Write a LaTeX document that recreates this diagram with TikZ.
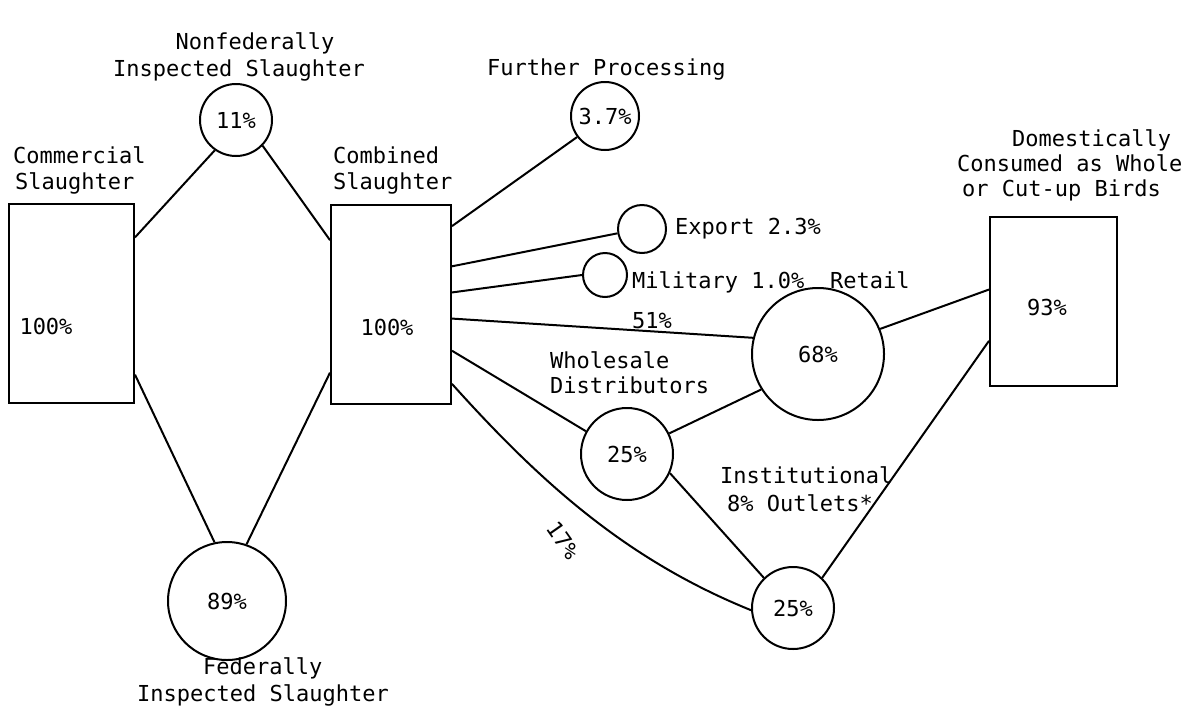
\documentclass[tikz,border=0pt]{standalone}
\usepackage{fontspec}
\setmonofont{DejaVu Sans Mono}
\usetikzlibrary{calc}
\begin{document}
\begin{tikzpicture}[x=1pt,y=-1pt,
  lbl/.style={font=\ttfamily\fontsize{22}{26}\selectfont, inner sep=0pt},
  pct/.style={circle, draw, line width=2pt, inner sep=0pt,
              font=\ttfamily\fontsize{22}{26}\selectfont},
  box/.style={draw, line width=2pt, inner sep=0pt},
  link/.style={line width=2pt}]
\useasboundingbox (0,0) rectangle (1182,707);

% boxes
\node[box, minimum width=125, minimum height=199] (comm) at (71.5,303.5) {};
\node[box, minimum width=120, minimum height=199] (comb) at (391,304.5) {};
\node[box, minimum width=127, minimum height=169] (dom)  at (1053.5,301.5) {};
\node[lbl] (commp) at (46,326) {100\%};
\node[lbl] (combp) at (387,327) {100\%};
\node[lbl] (domp)  at (1047,307) {93\%};

% circles
\node[pct, minimum size=72]  (c11) at (236,120) {11\%};
\node[pct, minimum size=118] (c89) at (227,601) {89\%};
\node[pct, minimum size=68]  (c37) at (605,116) {3.7\%};
\node[pct, minimum size=48]  (cexp) at (642,229) {};
\node[pct, minimum size=44]  (cmil) at (605,275) {};
\node[pct, minimum size=132] (c68) at (818,354) {68\%};
\node[pct, minimum size=92]  (cwh) at (627,454) {25\%};
\node[pct, minimum size=82]  (cin) at (793,608) {25\%};

% labels
\node[lbl, anchor=base] (tnf1) at (255,49) {Nonfederally};
\node[lbl, anchor=base west] (tnf2) at (113,76) {Inspected Slaughter};
\node[lbl, anchor=base west] (tcm1) at (13,163) {Commercial};
\node[lbl, anchor=base west] (tcm2) at (15,189) {Slaughter};
\node[lbl, anchor=base west] (tcb1) at (333,163) {Combined};
\node[lbl, anchor=base west] (tcb2) at (333,189) {Slaughter};
\node[lbl, anchor=base west] (tfp) at (487,75) {Further Processing};
\node[lbl, anchor=base west] (tex) at (675,234) {Export 2.3\%};
\node[lbl, anchor=base west] (tmi) at (632,288) {Military 1.0\%};
\node[lbl, anchor=base west] (tre) at (830,288) {Retail};
\node[lbl, anchor=base] (t51) at (652,328) {51\%};
\node[lbl, anchor=base west] (twh1) at (550,368) {Wholesale};
\node[lbl, anchor=base west] (twh2) at (550,393) {Distributors};
\node[lbl, anchor=base west] (tin1) at (720,483) {Institutional};
\node[lbl, anchor=base west] (tin2) at (727,511) {8\% Outlets*};
\node[lbl, rotate=-55] (t17) at (563,540) {17\%};
\node[lbl, anchor=base west] (tfe1) at (203,674) {Federally};
\node[lbl, anchor=base west] (tfe2) at (137,701) {Inspected Slaughter};
\node[lbl, anchor=base west] (tdo1) at (1012,146) {Domestically};
\node[lbl, anchor=base west] (tdo2) at (957,171) {Consumed as Whole};
\node[lbl, anchor=base west] (tdo3) at (962,196) {or Cut-up Birds};

% connectors on the left
\draw[link] (c11.235) -- ($(comm.north east)!0.171!(comm.south east)$);
\draw[link] (c11.316) -- ($(comb.north west)!0.18!(comb.south west)$);
\draw[link] (c89.102) -- ($(comm.north east)!0.854!(comm.south east)$);
\draw[link] (c89.71)  -- ($(comb.north west)!0.839!(comb.south west)$);

% connectors leaving the combined box
\draw[link] ($(comb.north east)!0.11!(comb.south east)$) -- (c37.217);
\draw[link] ($(comb.north east)!0.31!(comb.south east)$) -- (cexp.190);
\draw[link] ($(comb.north east)!0.44!(comb.south east)$) -- (cmil.180);
\draw[link] ($(comb.north east)!0.57!(comb.south east)$) -- (c68.166);
\draw[link] ($(comb.north east)!0.73!(comb.south east)$) -- (cwh.151);
\draw[link] ($(comb.north east)!0.895!(comb.south east)$)
   .. controls (541,483) and (627,560) .. (cin.183);

% distribution links
\draw[link] (cwh.26)  -- (c68.212);
\draw[link] (cwh.336) -- (cin.134);
\draw[link] (c68.22)  -- ($(dom.north west)!0.43!(dom.south west)$);
\draw[link] (cin.46)  -- ($(dom.north west)!0.73!(dom.south west)$);
\end{tikzpicture}
\end{document}
